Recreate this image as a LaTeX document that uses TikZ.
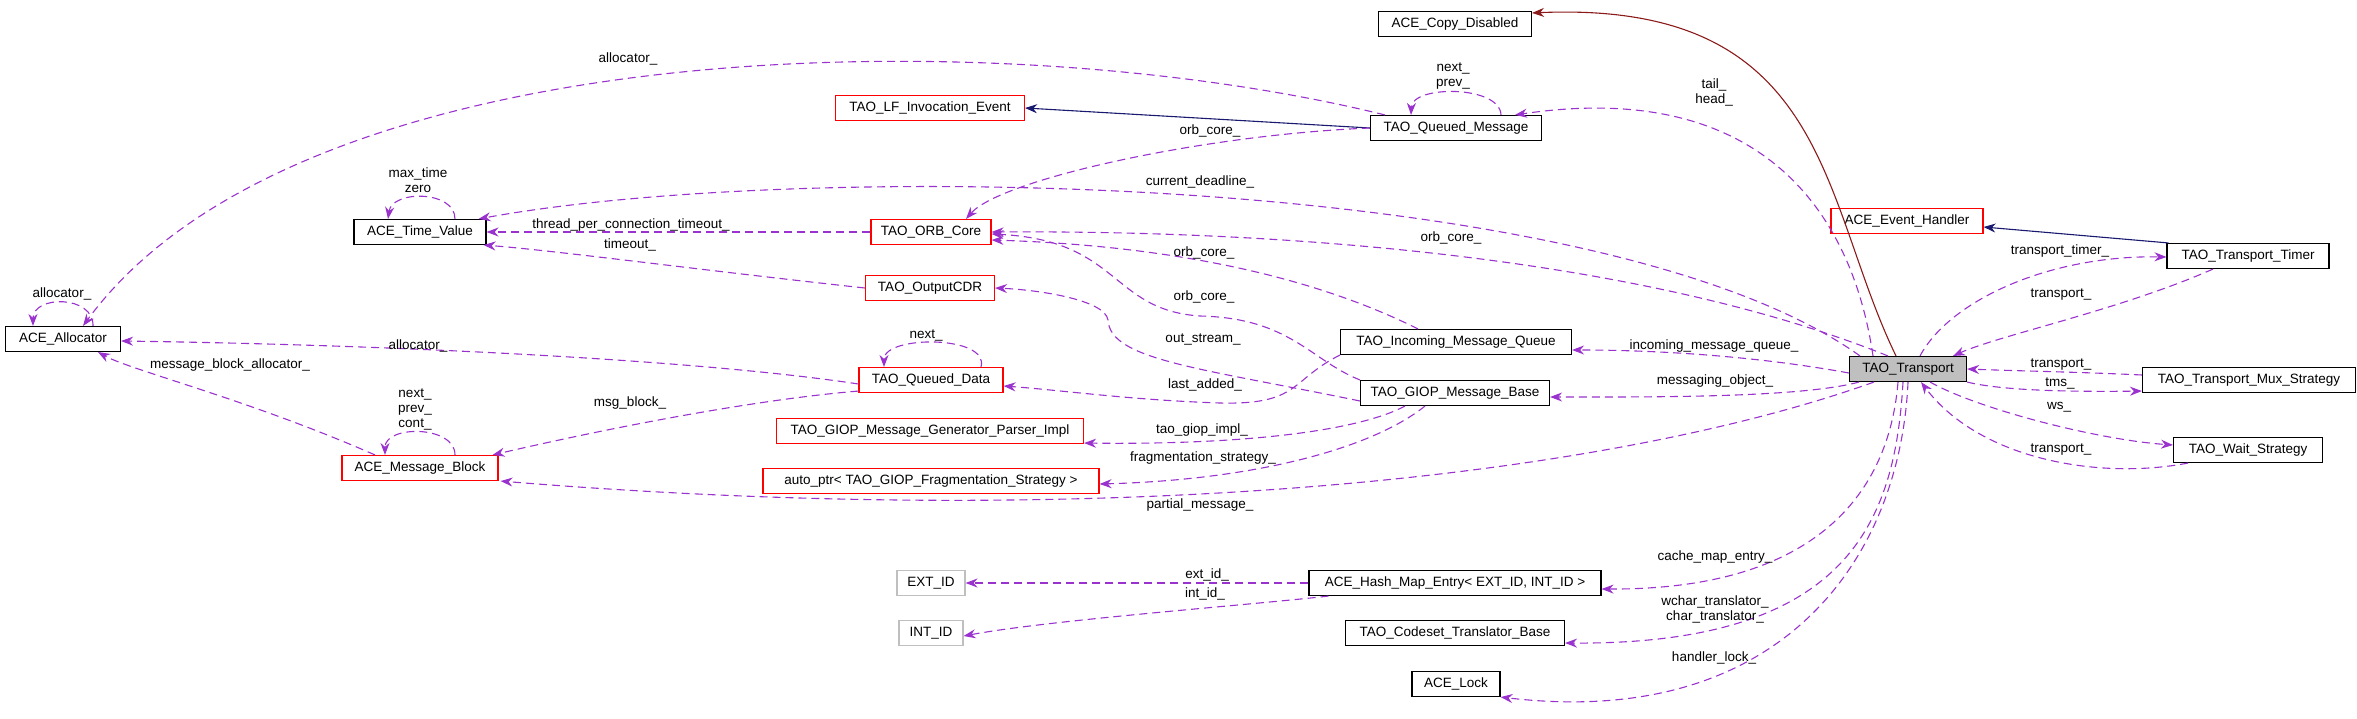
\documentclass[tikz,border=0pt]{standalone}
\usepackage{fontspec}
\setmainfont{Liberation Sans}
\usetikzlibrary{arrows.meta}
\definecolor{rel}{HTML}{9A32CD}
\definecolor{inh}{HTML}{191970}
\definecolor{inh2}{HTML}{8B1A1A}
\begin{document}
\begin{tikzpicture}[x=1pt,y=-1pt,
  every node/.style={font=\fontsize{13.5}{15}\selectfont},
  box/.style={draw=black,line width=1.1pt,inner sep=0pt,minimum height=25pt,fill=white},
  rbox/.style={box,draw=red},
  gbox/.style={box,draw=black!25},
  lbl/.style={inner sep=0pt,align=center,font=\fontsize{13.5}{15}\selectfont},
  use/.style={draw=rel,line width=1.1pt,dash pattern=on 8pt off 5pt,-{Stealth[length=12pt,width=9pt]}},
  isa/.style={draw=inh,line width=1.1pt,-{Stealth[length=12pt,width=9pt]}},
  isa2/.style={draw=inh2,line width=1.1pt,-{Stealth[length=12pt,width=9pt]}}]
\useasboundingbox (0,0) rectangle (2357,718);
% nodes
\node[box,minimum width=115pt] (alloc) at (63,339) {ACE\_Allocator};
\node[box,minimum width=132pt] (tv) at (420,232) {ACE\_Time\_Value};
\node[rbox,minimum width=189pt] (lf) at (930,108) {TAO\_LF\_Invocation\_Event};
\node[rbox,minimum width=120pt] (orb) at (931,232) {TAO\_ORB\_Core};
\node[rbox,minimum width=129pt] (ocdr) at (930,288) {TAO\_OutputCDR};
\node[rbox,minimum width=144pt] (qd) at (931,380) {TAO\_Queued\_Data};
\node[rbox,minimum width=307pt] (gen) at (930,431) {TAO\_GIOP\_Message\_Generator\_Parser\_Impl};
\node[rbox,minimum width=336pt] (ap) at (931,481) {auto\_ptr< TAO\_GIOP\_Fragmentation\_Strategy >};
\node[rbox,minimum width=156pt] (mb) at (420,468) {ACE\_Message\_Block};
\node[gbox,minimum width=68pt] (ext) at (931,583) {EXT\_ID};
\node[gbox,minimum width=64pt] (int) at (931,633) {INT\_ID};
\node[box,minimum width=153pt] (cd) at (1455,24) {ACE\_Copy\_Disabled};
\node[box,minimum width=171pt] (qm) at (1456,128) {TAO\_Queued\_Message};
\node[rbox,minimum width=152pt] (ev) at (1907,221) {ACE\_Event\_Handler};
\node[box,minimum width=162pt] (tim) at (2248,256) {TAO\_Transport\_Timer};
\node[box,minimum width=117pt,fill=black!25] (tr) at (1908,369) {TAO\_Transport};
\node[box,minimum width=213pt] (mux) at (2249,380) {TAO\_Transport\_Mux\_Strategy};
\node[box,minimum width=149pt] (wait) at (2248,450) {TAO\_Wait\_Strategy};
\node[box,minimum width=231pt] (imq) at (1456,342) {TAO\_Incoming\_Message\_Queue};
\node[box,minimum width=189pt] (gmb) at (1455,393) {TAO\_GIOP\_Message\_Base};
\node[box,minimum width=292pt] (hash) at (1455,583) {ACE\_Hash\_Map\_Entry< EXT\_ID, INT\_ID >};
\node[box,minimum width=219pt] (cs) at (1455,633) {TAO\_Codeset\_Translator\_Base};
\node[box,minimum width=88pt] (lock) at (1456,684) {ACE\_Lock};
% inheritance
\draw[isa] (qm.west) -- (lf.east);
\draw[isa] ([xshift=2pt]tim.north west) -- ([yshift=-6pt]ev.east);
\draw[isa2] ([xshift=-12pt]tr.north) .. controls (1820,200) and (1830,0) .. ([yshift=-2pt]cd.north east);
% usage edges
\draw[use] ([xshift=15pt]qm.north west) .. controls (1000,20) and (300,30) .. ([xshift=20pt]alloc.north);
\draw[use] ([xshift=45pt]qm.north) .. controls (1500,85) and (1412,85) .. ([xshift=-45pt]qm.north);
\draw[use] (qm.west) .. controls (1200,135) and (1000,180) .. ([xshift=35pt]orb.north);
\draw[use] ([xshift=-35pt]tr.north) .. controls (1850,200) and (1750,80) .. ([xshift=59pt]qm.north);
\draw[use] ([xshift=-48pt]tr.north) .. controls (1600,170) and (800,160) .. ([xshift=-8pt]tv.north east);
\draw[use] ([xshift=35pt]tv.north) .. controls (455,190) and (392,190) .. ([xshift=-32pt]tv.north);
\draw[use] (orb.west) -- (tv.east);
\draw[use] (ocdr.west) .. controls (700,270) and (550,250) .. ([xshift=-3pt]tv.south east);
\draw[use] ([xshift=-20pt]tr.north) .. controls (1650,260) and (1300,230) .. (orb.east);
\draw[use] ([xshift=-38pt]imq.north) .. controls (1300,270) and (1150,245) .. ([yshift=-8pt]orb.east);
\draw[use] (gmb.north west) .. controls (1310,360) and (1290,318) .. (1200,316) .. controls (1110,310) and (1120,240) .. ([yshift=-2pt]orb.east);
\draw[use] ([yshift=-8pt]gmb.west) .. controls (1200,368) and (1110,360) .. (1108,320) .. controls (1105,300) and (1040,290) .. (ocdr.east);
\draw[use] (imq.south west) .. controls (1290,380) and (1300,405) .. (1220,403) .. controls (1130,400) and (1060,390) .. ([yshift=-6pt]qd.east);
\draw[use] ([yshift=-4pt]qd.west) .. controls (700,360) and (400,345) .. ([yshift=-2pt]alloc.east);
\draw[use] ([xshift=50pt]qd.north) .. controls (990,335) and (884,335) .. ([xshift=-47pt]qd.north);
\draw[use] ([yshift=2pt]qd.south west) .. controls (750,400) and (600,430) .. ([xshift=-6pt]mb.north east);
\draw[use] ([xshift=-45pt]mb.north) .. controls (250,400) and (130,370) .. ([xshift=35pt]alloc.south);
\draw[use] ([xshift=35pt]mb.north) .. controls (455,425) and (385,425) .. ([xshift=-35pt]mb.north);
\draw[use] ([xshift=30pt]alloc.north) .. controls (94,295) and (33,295) .. ([xshift=-30pt]alloc.north);
\draw[use] ([yshift=-4pt]tr.west) .. controls (1750,355) and (1650,350) .. ([yshift=-8pt]imq.east);
\draw[use] ([xshift=10pt]tr.south west) .. controls (1800,398) and (1650,397) .. ([yshift=-4pt]gmb.east);
\draw[use] ([xshift=-50pt]gmb.south) .. controls (1360,430) and (1250,445) .. ([yshift=1pt]gen.south east);
\draw[use] ([xshift=-30pt]gmb.south) .. controls (1370,450) and (1250,480) .. ([yshift=-3pt]ap.east);
\draw[use] ([xshift=25pt]tr.south west) .. controls (1600,480) and (1100,530) .. ([xshift=2pt]mb.south east);
\draw[use] ([xshift=12pt]tr.north) .. controls (1950,300) and (2050,255) .. ([yshift=-1pt]tim.west);
\draw[use] ([xshift=-35pt]tim.south) .. controls (2120,310) and (2000,335) .. ([xshift=45pt]tr.north);
\draw[use] ([yshift=5pt]mux.west) .. controls (2080,372) and (2020,371) .. (tr.east);
\draw[use] (tr.south east) .. controls (2000,390) and (2060,392) .. ([yshift=2pt]mux.south west);
\draw[use] ([xshift=22pt]tr.south) .. controls (1980,410) and (2100,440) .. ([yshift=5pt]wait.west);
\draw[use] ([xshift=-60pt]wait.south) .. controls (2100,480) and (1980,460) .. ([xshift=13pt]tr.south);
\draw[use] ([xshift=-10pt]tr.south) .. controls (1890,480) and (1830,590) .. ([yshift=-6pt]hash.east);
\draw[use] ([xshift=-5pt]tr.south) .. controls (1895,520) and (1850,645) .. ([yshift=-10pt]cs.east);
\draw[use] (tr.south) .. controls (1900,560) and (1780,730) .. (lock.south east);
\draw[use] (hash.west) -- (ext.east);
\draw[use] ([xshift=20pt]hash.south west) .. controls (1250,605) and (1050,620) .. ([yshift=-3pt]int.east);
% labels
\node[lbl] (l1) at (628,59) {allocator\_};
\node[lbl] (l2) at (1453,76) {next\_\\prev\_};
\node[lbl] (l3) at (1210,131) {orb\_core\_};
\node[lbl] (l4) at (1714,92) {tail\_\\head\_};
\node[lbl] (l5) at (1200,182) {current\_deadline\_};
\node[lbl] (l6) at (418,180) {max\_time\\zero};
\node[lbl] (l7) at (631,225) {thread\_per\_connection\_timeout\_};
\node[lbl] (l8) at (630,245) {timeout\_};
\node[lbl] (l9) at (1451,238) {orb\_core\_};
\node[lbl] (l10) at (1204,253) {orb\_core\_};
\node[lbl] (l11) at (1204,297) {orb\_core\_};
\node[lbl] (l12) at (1203,339) {out\_stream\_};
\node[lbl] (l13) at (1205,385) {last\_added\_};
\node[lbl] (l14) at (1202,430) {tao\_giop\_impl\_};
\node[lbl] (l15) at (1203,458) {fragmentation\_strategy\_};
\node[lbl] (l16) at (1200,505) {partial\_message\_};
\node[lbl] (l17) at (1207,575) {ext\_id\_};
\node[lbl] (l18) at (1205,594) {int\_id\_};
\node[lbl] (l19) at (418,346) {allocator\_};
\node[lbl] (l20) at (230,365) {message\_block\_allocator\_};
\node[lbl] (l21) at (926,335) {next\_};
\node[lbl] (l22) at (630,403) {msg\_block\_};
\node[lbl] (l23) at (415,409) {next\_\\prev\_\\cont\_};
\node[lbl] (l24) at (62,294) {allocator\_};
\node[lbl] (l25) at (1714,346) {incoming\_message\_queue\_};
\node[lbl] (l26) at (1715,381) {messaging\_object\_};
\node[lbl] (l27) at (2060,251) {transport\_timer\_};
\node[lbl] (l28) at (2061,295) {transport\_};
\node[lbl] (l29) at (2061,365) {transport\_};
\node[lbl] (l30) at (2060,383) {tms\_};
\node[lbl] (l31) at (2059,407) {ws\_};
\node[lbl] (l32) at (2061,450) {transport\_};
\node[lbl] (l33) at (1715,557) {cache\_map\_entry\_};
\node[lbl] (l34) at (1715,609) {wchar\_translator\_\\char\_translator\_};
\node[lbl] (l35) at (1714,658) {handler\_lock\_};
\end{tikzpicture}
\end{document}
